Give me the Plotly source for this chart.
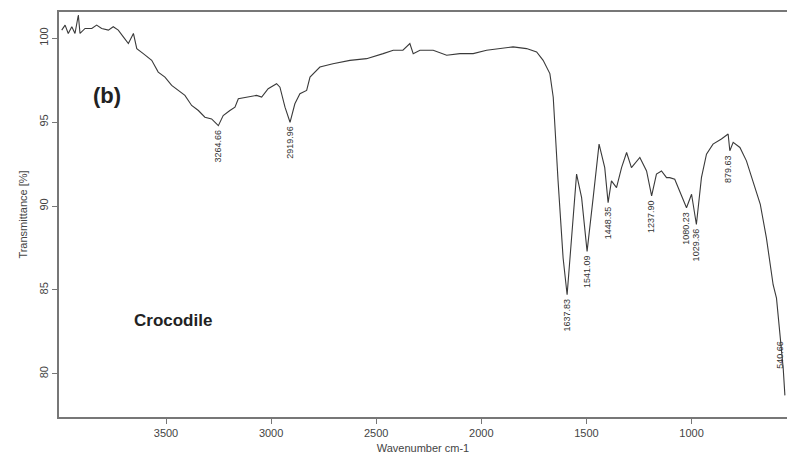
import plotly.graph_objects as go

# FTIR spectrum
wavenumber = [3996, 3980, 3965, 3948, 3933, 3917, 3909, 3885, 3853, 3830, 3806, 3774, 3751, 3727,
              3703, 3679, 3655, 3639, 3608, 3568, 3537, 3505, 3473, 3442, 3410, 3378, 3346, 3315,
              3283, 3251, 3228, 3196, 3172, 3156, 3116, 3069, 3045, 3014, 2974, 2958, 2934, 2910,
              2887, 2863, 2831, 2815, 2768, 2706, 2625, 2546, 2467, 2419, 2373, 2340, 2324, 2292,
              2229, 2165, 2102, 2039, 1975, 1912, 1849, 1785, 1737, 1706, 1674, 1658, 1650, 1646,
              1635, 1611, 1592, 1571, 1547, 1523, 1497, 1468, 1440, 1413, 1397, 1381, 1357, 1333,
              1309, 1286, 1262, 1246, 1214, 1190, 1167, 1143, 1119, 1104, 1080, 1057, 1024, 1000,
              977, 953, 929, 898, 858, 826, 818, 802, 770, 739, 699, 673, 644, 612, 596, 580, 564, 556]
transmittance = [100.48, 100.78, 100.28, 100.68, 100.28, 101.38, 100.28, 100.58, 100.58, 100.78,
                 100.58, 100.48, 100.68, 100.48, 100.08, 99.68, 100.28, 99.38, 99.08, 98.68, 97.98,
                 97.68, 97.19, 96.89, 96.59, 95.99, 95.69, 95.29, 95.19, 94.79, 95.39, 95.69, 95.89,
                 96.39, 96.49, 96.59, 96.49, 96.99, 97.29, 97.08, 95.89, 94.99, 96.09, 96.69, 96.89,
                 97.68, 98.28, 98.48, 98.68, 98.78, 99.08, 99.28, 99.28, 99.68, 99.08, 99.28, 99.28,
                 98.98, 99.08, 99.08, 99.28, 99.38, 99.48, 99.38, 99.18, 98.68, 97.89, 96.48, 95.09,
                 93.89, 91.50, 86.90, 84.71, 87.90, 91.90, 90.50, 87.30, 90.50, 93.69, 92.29, 90.20,
                 91.50, 91.10, 92.29, 93.19, 92.29, 92.69, 92.89, 92.09, 90.60, 91.90, 92.09, 91.69,
                 91.69, 91.60, 90.90, 89.90, 90.70, 88.90, 91.69, 93.09, 93.69, 93.99, 94.29, 93.29,
                 93.79, 93.49, 92.69, 91.09, 90.10, 88.10, 85.31, 84.51, 82.32, 80.32, 78.72]

peak_labels = ["3264.66", "2919.96", "1637.83", "1541.09", "1448.35", "1237.90",
               "1080.23", "1029.36", "879.63", "540.66"]
peak_wn = [3251, 2910, 1592, 1497, 1397, 1190, 1024, 977, 826, 580]
peak_t = [94.79, 94.99, 84.71, 87.30, 90.20, 90.60, 89.90, 88.90, 93.29, 82.2]

x_ticks = [3500, 3000, 2500, 2000, 1500, 1000]
y_ticks = [80, 85, 90, 95, 100]

fig = go.Figure()
fig.add_trace(go.Scatter(x=wavenumber, y=transmittance, mode="lines",
                         line=dict(color="#3a3a3a", width=1.1), showlegend=False))

for lab, xw, yt in zip(peak_labels, peak_wn, peak_t):
    fig.add_annotation(x=xw, y=yt, text=lab, showarrow=False, textangle=-90,
                       xanchor="center", yanchor="top", yshift=-2,
                       font=dict(family="Liberation Sans, Arial", size=9, color="#333"))

fig.add_annotation(x=3780, y=96.6, text="<b>(b)</b>", showarrow=False,
                   font=dict(family="Liberation Sans, Arial", size=22, color="#222"))
fig.add_annotation(x=3467, y=83.2, text="<b>Crocodile</b>", showarrow=False,
                   font=dict(family="Liberation Sans, Arial", size=17, color="#222"))

fig.update_layout(
    width=787, height=469,
    margin=dict(l=59, r=0, t=12, b=52, autoexpand=False),
    plot_bgcolor="white", paper_bgcolor="white",
    font=dict(family="Liberation Sans, Arial", size=11, color="#444"),
)
fig.update_xaxes(range=[4009, 546], tickvals=x_ticks, showgrid=False, zeroline=False,
                 showline=True, linecolor="#777", linewidth=1.5, mirror=True, automargin=False,
                 ticks="outside", ticklen=5, tickcolor="#777",
                 title=dict(text="Wavenumber cm-1", font=dict(size=11, color="#444"), standoff=6))
fig.update_yaxes(range=[77.43, 101.56], tickvals=y_ticks, showgrid=False, zeroline=False,
                 showline=True, linecolor="#777", linewidth=1.5, automargin=False,
                 ticks="outside", ticklen=5, tickcolor="#777", tickangle=-90,
                 title=dict(text="Transmittance [%]", font=dict(size=11, color="#444"), standoff=8))

fig.write_html("out.html", config={"displayModeBar": False},
               post_script="document.body.style.margin='0';document.body.style.overflow='hidden';")
